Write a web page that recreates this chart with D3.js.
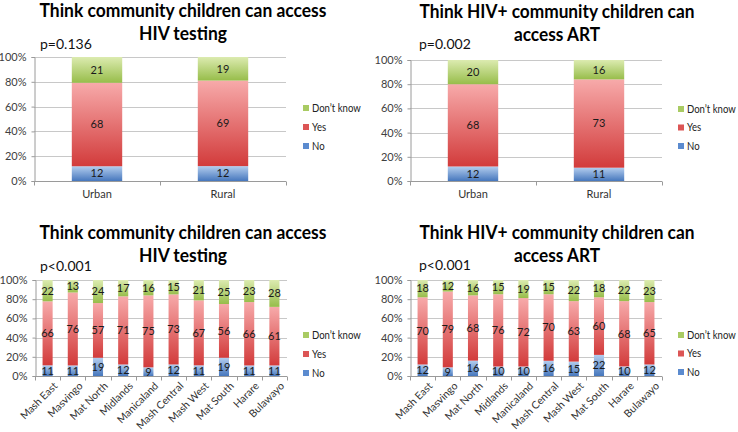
<!DOCTYPE html>
<html>
<head>
<meta charset="utf-8">
<script src="https://cdn.jsdelivr.net/npm/d3@7"></script>
<style>
  html, body { margin: 0; padding: 0; background: #fff; }
  svg { display: block; }
  text { font-family: Lato, "Open Sans", sans-serif; }
</style>
</head>
<body>
<svg id="chart" width="738" height="432"></svg>
<script>
// ---------------- DATA ----------------
const areaCategories = ["Urban", "Rural"];
const provinceCategories = ["Mash East", "Masvingo", "Mat North", "Midlands", "Manicaland",
  "Mash Central", "Mash West", "Mat South", "Harare", "Bulawayo"];
const seriesNames = ["No", "Yes", "Don\u2019t know"];
const yTickLabels = ["0%", "20%", "40%", "60%", "80%", "100%"];
const yTickValues = [0, 0.2, 0.4, 0.6, 0.8, 1];

const testingAreaNo = [12, 12];
const testingAreaYes = [68, 69];
const testingAreaDontKnow = [21, 19];

const artAreaNo = [12, 11];
const artAreaYes = [68, 73];
const artAreaDontKnow = [20, 16];

const testingProvNo = [11, 11, 19, 12, 9, 12, 11, 19, 11, 11];
const testingProvYes = [66, 76, 57, 71, 75, 73, 67, 56, 66, 61];
const testingProvDontKnow = [22, 13, 24, 17, 16, 15, 21, 25, 23, 28];

const artProvNo = [12, 9, 16, 10, 10, 16, 15, 22, 10, 12];
const artProvYes = [70, 79, 68, 76, 72, 70, 63, 60, 68, 65];
const artProvDontKnow = [18, 12, 16, 15, 19, 15, 22, 18, 22, 23];

const titleTesting = ["Think community children can access", "HIV testing"];
const titleArt = ["Think HIV+ community children can", "access ART"];
const pValues = ["p=0.136", "p=0.002", "p<0.001", "p<0.001"];

// ---------------- STYLE ----------------
const gradStops = {
  "No": ["#b3cdee", "#4677bd"],
  "Yes": ["#f7aaaa", "#d23b3b"],
  "Don\u2019t know": ["#dcebb0", "#97bd4a"]
};
const legendColors = { "No": "#5b8bcf", "Yes": "#dc5555", "Don\u2019t know": "#a9cb63" };

const svg = d3.select("#chart");
const defs = svg.append("defs");
seriesNames.forEach((s, i) => {
  const g = defs.append("linearGradient").attr("id", "grad" + i)
    .attr("x1", 0).attr("y1", 0).attr("x2", 0).attr("y2", 1);
  g.append("stop").attr("offset", "0%").attr("stop-color", gradStops[s][0]);
  g.append("stop").attr("offset", "100%").attr("stop-color", gradStops[s][1]);
});

function drawPanel(cfg) {
  const g = svg.append("g");
  const rows = cfg.categories.map((c, i) => ({
    cat: c, "No": cfg.no[i], "Yes": cfg.yes[i], "Don\u2019t know": cfg.dk[i]
  }));
  const stack = d3.stack().keys(seriesNames).offset(d3.stackOffsetExpand);
  const layers = stack(rows);

  const x = d3.scaleBand().domain(cfg.categories).range([cfg.x0, cfg.x1]).paddingInner(0.6).paddingOuter(0.3);
  const xb = d3.scaleBand().domain(cfg.categories).range([cfg.x0, cfg.x1]);
  const y = d3.scaleLinear().domain([0, 1]).range([cfg.y1, cfg.y0]);

  // gridlines
  g.append("g").selectAll("line").data(yTickValues.filter(v => v > 0)).join("line")
    .attr("x1", cfg.x0).attr("x2", cfg.x1)
    .attr("y1", d => Math.round(y(d)) + 0.5).attr("y2", d => Math.round(y(d)) + 0.5)
    .attr("stroke", "#c8c8c8").attr("stroke-width", 1);

  // y axis
  const yAxis = d3.axisLeft(y).tickValues(yTickValues)
    .tickFormat((d, i) => yTickLabels[i]).tickSize(3).tickPadding(5);
  const ya = g.append("g").attr("transform", `translate(${cfg.x0 + 0.5},0)`).call(yAxis);
  ya.select(".domain").attr("stroke", "#9a9a9a");
  ya.selectAll(".tick line").attr("stroke", "#9a9a9a");
  ya.selectAll("text").attr("font-size", 11).attr("fill", "#404040")
    .attr("font-family", "Lato, 'Open Sans', sans-serif");

  // bars
  layers.forEach((layer, li) => {
    const lg = g.append("g");
    lg.selectAll("rect").data(layer).join("rect")
      .attr("x", d => x(d.data.cat))
      .attr("width", x.bandwidth())
      .attr("y", d => y(d[1]))
      .attr("height", d => y(d[0]) - y(d[1]))
      .attr("fill", `url(#grad${li})`);
    lg.selectAll("text").data(layer).join("text")
      .attr("x", d => x(d.data.cat) + x.bandwidth() / 2)
      .attr("y", d => (y(d[0]) + y(d[1])) / 2)
      .attr("dy", "0.35em")
      .attr("text-anchor", "middle")
      .attr("font-size", cfg.labelSize)
      .attr("fill", "#1a1a1a")
      .text(d => d.data[layer.key]);
  });

  // x axis
  const xAxisLine = g.append("g").attr("transform", `translate(0,${Math.round(cfg.y1) + 0.5})`);
  xAxisLine.append("line").attr("x1", cfg.x0).attr("x2", cfg.x1).attr("stroke", "#9a9a9a");
  const edges = cfg.categories.map(c => xb(c)).concat([cfg.x1]);
  xAxisLine.selectAll("line.tk").data(edges).join("line").attr("class", "tk")
    .attr("x1", d => Math.round(d) + 0.5).attr("x2", d => Math.round(d) + 0.5)
    .attr("y1", 0).attr("y2", 4).attr("stroke", "#9a9a9a");

  const xl = g.append("g").selectAll("text").data(cfg.categories).join("text")
    .attr("fill", "#333");
  if (cfg.rotate) {
    xl.attr("text-anchor", "end").attr("font-size", 10.5)
      .attr("transform", d => `translate(${x(d) + x.bandwidth() / 2 + 5},${cfg.y1 + 5}) rotate(-45)`)
      .attr("dy", "0.75em")
      .text(d => d);
  } else {
    xl.attr("text-anchor", "middle").attr("font-size", 11)
      .attr("x", d => x(d) + x.bandwidth() / 2)
      .attr("y", cfg.y1 + 17)
      .text(d => d);
  }

  // legend
  const legendOrder = seriesNames.slice().reverse();
  const leg = g.append("g").selectAll("g").data(legendOrder).join("g")
    .attr("transform", (d, i) => `translate(${cfg.legX},${cfg.legY + i * cfg.legStep})`);
  leg.append("rect").attr("x", 0).attr("y", -3).attr("width", 6).attr("height", 6)
    .attr("fill", d => legendColors[d]);
  leg.append("g").attr("transform", "translate(9,0) scale(0.87,1)")
    .append("text").attr("dy", "0.35em").attr("font-size", 11)
    .attr("fill", "#222").text(d => d);

  // title (condensed horizontally to mimic a narrow bold face)
  const tg = g.append("g");
  const t = tg.append("text").attr("text-anchor", "middle")
    .attr("font-family", "Lato, 'Open Sans', sans-serif")
    .attr("font-weight", "bold").attr("font-size", 18).attr("fill", "#000");
  t.append("tspan").attr("x", 0).attr("y", cfg.titleY1).text(cfg.title[0]);
  t.append("tspan").attr("x", 0).attr("y", cfg.titleY2).text(cfg.title[1]);
  const w = t.select("tspan").node().getComputedTextLength();
  tg.attr("transform", `translate(${cfg.titleX},0) scale(${cfg.titleW / w},1)`);

  // p value
  g.append("text").attr("x", cfg.pX).attr("y", cfg.pY).attr("font-size", 14)
    .attr("fill", "#111").text(cfg.p);
}

drawPanel({
  categories: areaCategories, no: testingAreaNo, yes: testingAreaYes, dk: testingAreaDontKnow,
  x0: 34, x1: 286, y0: 57, y1: 181, rotate: false, labelSize: 11,
  legX: 303, legY: 108, legStep: 19,
  title: titleTesting, titleX: 183, titleY1: 17.5, titleY2: 40.5, titleW: 287,
  p: pValues[0], pX: 40, pY: 49
});
drawPanel({
  categories: areaCategories, no: artAreaNo, yes: artAreaYes, dk: artAreaDontKnow,
  x0: 410, x1: 662, y0: 60, y1: 181, rotate: false, labelSize: 11,
  legX: 678, legY: 109, legStep: 18.5,
  title: titleArt, titleX: 557, titleY1: 18, titleY2: 41, titleW: 275,
  p: pValues[1], pX: 419, pY: 49
});
drawPanel({
  categories: provinceCategories, no: testingProvNo, yes: testingProvYes, dk: testingProvDontKnow,
  x0: 35, x1: 287, y0: 280, y1: 376, rotate: true, labelSize: 11,
  legX: 303, legY: 335, legStep: 19,
  title: titleTesting, titleX: 183, titleY1: 239, titleY2: 262, titleW: 287,
  p: pValues[2], pX: 40, pY: 271
});
drawPanel({
  categories: provinceCategories, no: artProvNo, yes: artProvYes, dk: artProvDontKnow,
  x0: 410, x1: 662, y0: 280, y1: 376, rotate: true, labelSize: 11,
  legX: 678, legY: 335, legStep: 18.5,
  title: titleArt, titleX: 557, titleY1: 239, titleY2: 262, titleW: 275,
  p: pValues[3], pX: 419, pY: 270
});
</script>
</body>
</html>
